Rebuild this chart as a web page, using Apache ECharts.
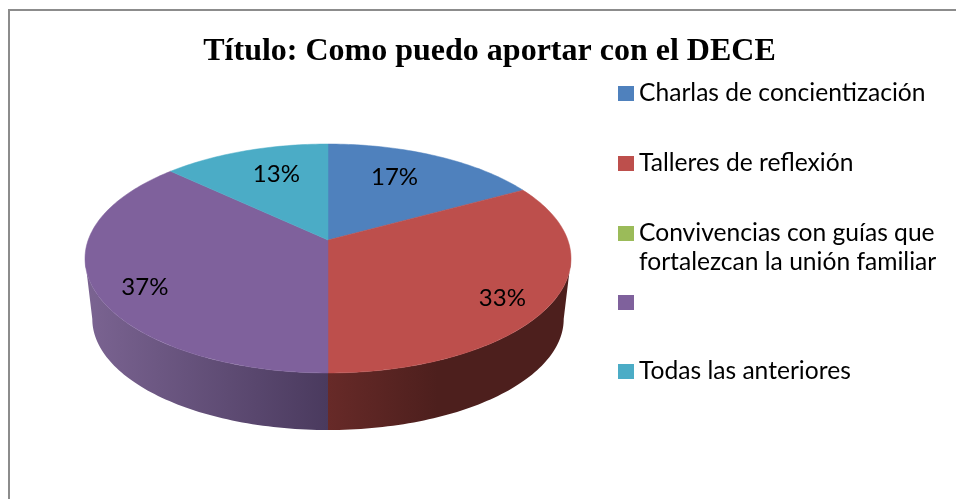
<!DOCTYPE html>
<html>
<head>
<meta charset="utf-8">
<script src="https://cdn.jsdelivr.net/npm/echarts@6/dist/echarts.min.js"></script>
<style>
  html, body { margin: 0; padding: 0; background: #fff; }
  #main { width: 956px; height: 499px; }
</style>
</head>
<body>
<div id="main"></div>
<script>
var titleText = "Título: Como puedo aportar con el DECE";
var categories = [
  "Charlas de concientización",
  "Talleres de reflexión",
  "Convivencias con guías que\nfortalezcan la unión familiar",
  " ",
  "Todas las anteriores"
];
var percents = [17, 33, 0, 37, 13];
var colors = ["#4F81BD", "#BD4F4C", "#9BBB59", "#7F619C", "#4BACC6"];
var wallColors = [
  ["#2a4566", "#2a4566"],
  ["#672a28", "#4d1f1d"],
  ["#53612e", "#53612e"],
  ["#4a3a5e", "#7b6492"],
  ["#275a68", "#275a68"]
];
var legendTops = [79, 149, 190, 288, 357];

// the projected disc: a circle seen in perspective, so the apex is above the ellipse centre
var cx = 328, apexY = 240, scaleX = 239.8, scaleY = 111.5, persp = 0.1616;
var depthY = 61, depthScale = 0.97;

function project(theta, r, bottom) {
  var u = Math.sin(theta) * r;
  var v = Math.cos(theta) * r;
  var w = 1 + persp * v;
  var s = bottom ? depthScale : 1;
  return [cx + s * scaleX * u / w, apexY + (bottom ? depthY : 0) - s * scaleY * v / w];
}

function arcPoints(a0, a1, bottom) {
  var pts = [];
  var n = Math.max(2, Math.ceil(Math.abs(a1 - a0) / 0.02));
  for (var i = 0; i <= n; i++) {
    pts.push(project(a0 + (a1 - a0) * i / n, 1, bottom));
  }
  return pts;
}

function renderSlice(params, api) {
  var idx = params.seriesIndex;
  var value = api.value(0);
  if (!value) return { type: "group", children: [] };
  var total = percents.reduce(function (a, b) { return a + b; }, 0);
  var before = 0;
  for (var i = 0; i < idx; i++) before += percents[i];
  var start = before / total * Math.PI * 2;
  var end = (before + value) / total * Math.PI * 2;
  var children = [];

  // side wall, runs between the two points where the disc is widest
  var tangent = Math.acos(-persp);
  var w0 = Math.max(start, tangent);
  var w1 = Math.min(end, Math.PI * 2 - tangent);
  if (w1 > w0) {
    var topArc = arcPoints(w0, w1, false);
    var botArc = arcPoints(w0, w1, true).reverse();
    var xs = topArc.concat(botArc).map(function (p) { return p[0]; });
    var minX = Math.min.apply(null, xs), maxX = Math.max.apply(null, xs);
    var fillWall = new echarts.graphic.LinearGradient(
      idx === 3 ? maxX : minX, 0, idx === 3 ? minX : maxX, 0,
      [
        { offset: 0, color: wallColors[idx][0] },
        { offset: idx === 3 ? 1 : 0.45, color: wallColors[idx][1] },
        { offset: 1, color: wallColors[idx][1] }
      ],
      true
    );
    children.push({
      type: "polygon",
      z2: 1,
      shape: { points: topArc.concat(botArc) },
      style: { fill: fillWall, stroke: wallColors[idx][0], lineWidth: 0 }
    });
  }

  // top face
  children.push({
    type: "polygon",
    z2: 2,
    shape: { points: [project(0, 0, false)].concat(arcPoints(start, end, false)) },
    style: { fill: colors[idx], stroke: colors[idx], lineWidth: 0.5 }
  });

  // percent label
  var mid = (start + end) / 2;
  var labelAt = project(mid, value < 20 ? 0.59 : 0.79, false);
  children.push({
    type: "text",
    z2: 3,
    style: {
      text: value + "%",
      x: labelAt[0],
      y: labelAt[1] + (Math.cos(mid) > 0 ? -10 : 10),
      align: "center",
      verticalAlign: "middle",
      fill: "#000",
      font: "24px Lato"
    }
  });
  return { type: "group", children: children };
}

var chart = echarts.init(document.getElementById("main"), null, { renderer: "canvas" });

var option = {
  animation: false,
  backgroundColor: "#fff",
  title: {
    text: titleText,
    left: 484.5,
    top: 31,
    textAlign: "center",
    textStyle: {
      fontFamily: "Liberation Serif",
      fontWeight: "bold",
      fontSize: 32,
      color: "#000"
    }
  },
  legend: categories.map(function (name, i) {
    return {
      data: [name],
      left: 618,
      top: legendTops[i],
      padding: 0,
      orient: "vertical",
      selectedMode: false,
      itemWidth: 16,
      itemHeight: 15,
      itemGap: 0,
      icon: "rect",
      formatter: function (n) {
        return n.indexOf("\n") >= 0 ? "\n" + n : n;
      },
      textStyle: { fontFamily: "Lato", fontSize: 24.6, color: "#000", lineHeight: 29 }
    };
  }),
  graphic: [
    { type: "line", shape: { x1: 9, y1: 10, x2: 9, y2: 499 }, style: { stroke: "#8c8c8c", lineWidth: 2 } },
    { type: "line", shape: { x1: 8, y1: 10, x2: 956, y2: 10 }, style: { stroke: "#8c8c8c", lineWidth: 2 } }
  ],
  series: categories.map(function (name, i) {
    return {
      type: "custom",
      name: name,
      coordinateSystem: "none",
      silent: true,
      itemStyle: { color: colors[i] },
      renderItem: renderSlice,
      data: [[percents[i]]]
    };
  })
};

chart.setOption(option);
</script>
</body>
</html>
